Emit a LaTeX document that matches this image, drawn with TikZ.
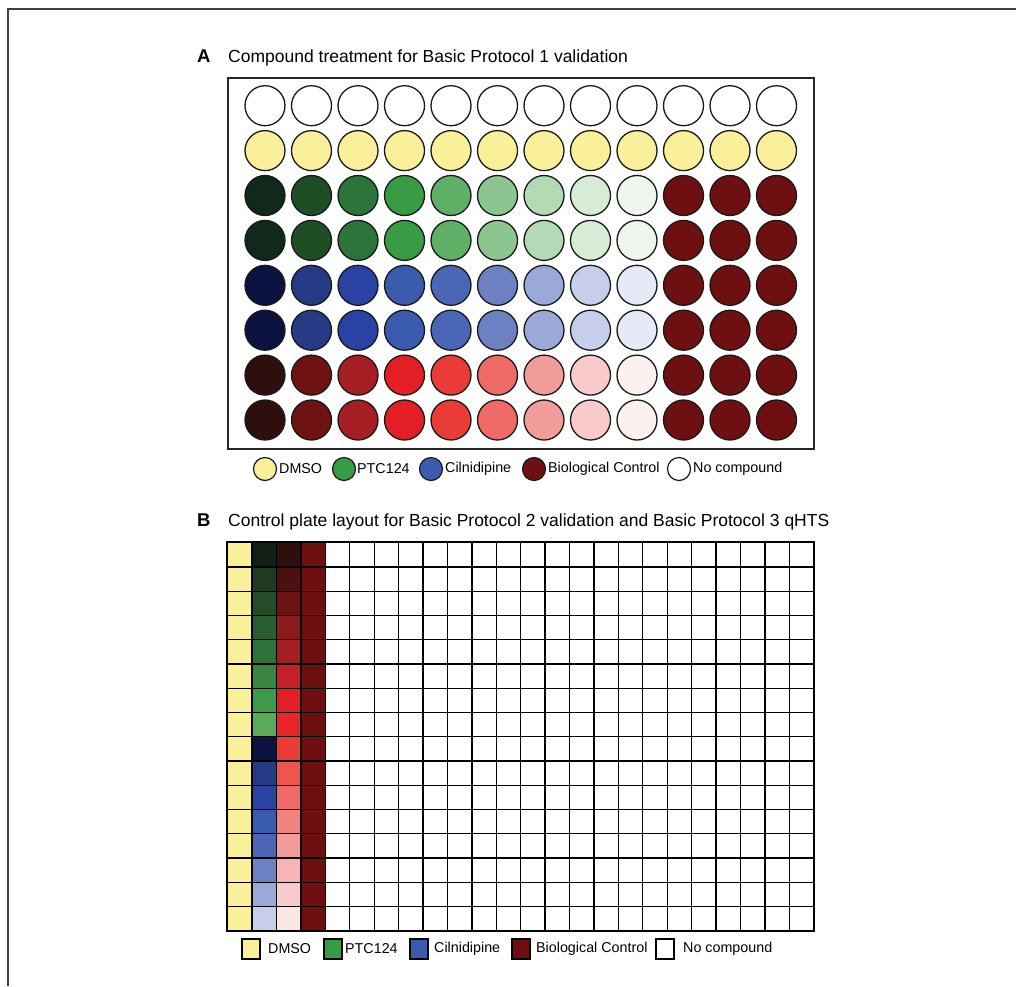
\documentclass[tikz,border=0pt]{standalone}
\usepackage{fontspec}
\setmainfont{Liberation Sans}
\definecolor{dmso}{HTML}{FAF09A}
\definecolor{bio}{HTML}{6E1012}
\definecolor{ptc}{HTML}{379A44}
\definecolor{cil}{HTML}{3B5BAE}
\definecolor{gA}{HTML}{10291A}\definecolor{gB}{HTML}{1F4D25}\definecolor{gC}{HTML}{2C743A}
\definecolor{gD}{HTML}{389C45}\definecolor{gE}{HTML}{60AF67}\definecolor{gF}{HTML}{8CC590}
\definecolor{gG}{HTML}{B4DAB5}\definecolor{gH}{HTML}{D7EBD7}\definecolor{gI}{HTML}{EEF6EE}
\definecolor{bA}{HTML}{0C1240}\definecolor{bB}{HTML}{263A86}\definecolor{bC}{HTML}{2A43A2}
\definecolor{bD}{HTML}{3B5BAE}\definecolor{bE}{HTML}{4B66B4}\definecolor{bF}{HTML}{6D81C2}
\definecolor{bG}{HTML}{9BA9D9}\definecolor{bH}{HTML}{C6CEEB}\definecolor{bI}{HTML}{E6EAF6}
\definecolor{rA}{HTML}{2F0E0E}\definecolor{rB}{HTML}{6E1213}\definecolor{rC}{HTML}{A51E23}
\definecolor{rD}{HTML}{E31E25}\definecolor{rE}{HTML}{EA3C36}\definecolor{rF}{HTML}{EE6A66}
\definecolor{rG}{HTML}{F29B9B}\definecolor{rH}{HTML}{F8CACB}\definecolor{rI}{HTML}{FDF1EF}
% plate B gradients
\definecolor{GA}{HTML}{131E15}\definecolor{GB}{HTML}{1F3A22}\definecolor{GC}{HTML}{234D29}
\definecolor{GD}{HTML}{2A5E31}\definecolor{GE}{HTML}{2F7138}\definecolor{GF}{HTML}{388440}
\definecolor{GG}{HTML}{3C9A48}\definecolor{GH}{HTML}{5BAA57}
\definecolor{RA}{HTML}{2F0E0E}\definecolor{RB}{HTML}{4C1011}\definecolor{RC}{HTML}{6B1213}
\definecolor{RD}{HTML}{8C1A1C}\definecolor{RE}{HTML}{A51E22}\definecolor{RF}{HTML}{C4202A}
\definecolor{RG}{HTML}{E31E24}\definecolor{RH}{HTML}{E8262A}\definecolor{RI}{HTML}{EA3B35}
\definecolor{RJ}{HTML}{EE554E}\definecolor{RK}{HTML}{EF6A66}\definecolor{RL}{HTML}{F18380}
\definecolor{RM}{HTML}{F29B9B}\definecolor{RN}{HTML}{F6B4B4}\definecolor{RO}{HTML}{F8CACB}
\definecolor{RP}{HTML}{FBE6E6}
\begin{document}
\begin{tikzpicture}[x=1pt,y=-1pt,
  well/.style={circle,draw=black!90,line width=1.3pt,minimum size=40pt,inner sep=0pt},
  cell/.style={rectangle,draw=black,line width=1.3pt,minimum width=24.42pt,minimum height=24.25pt,inner sep=0pt,anchor=north west},
  legcirc/.style={circle,draw=black!90,line width=1.2pt,minimum size=23pt,inner sep=0pt},
  legsq/.style={rectangle,draw=black,line width=1.2pt,minimum width=18pt,minimum height=20pt,inner sep=0pt},
  legtxt/.style={anchor=west,inner sep=0pt,font=\fontsize{14.3}{16}\selectfont},
  title/.style={anchor=base west,inner sep=0pt,font=\fontsize{17.5}{20}\selectfont},
  panel/.style={anchor=base west,inner sep=0pt,font=\fontsize{18.5}{20}\selectfont\bfseries}]
\useasboundingbox (0,0) rectangle (1016,986);
\draw[line width=1.5pt,black!75] (1016,9) -- (8,9) -- (8,986);
% ---------- Panel A ----------
\node[panel] (lblA) at (197,62) {A};
\node[title] (titA) at (228,62) {Compound treatment for Basic Protocol 1 validation};
\node[draw,line width=2pt,black!85,rectangle,minimum width=586pt,minimum height=371pt,inner sep=0pt,anchor=north west] (plateA) at (227,77) {};
\foreach \r/\cl in {1/{white,white,white,white,white,white,white,white,white,white,white,white},
                    2/{dmso,dmso,dmso,dmso,dmso,dmso,dmso,dmso,dmso,dmso,dmso,dmso},
                    3/{gA,gB,gC,gD,gE,gF,gG,gH,gI,bio,bio,bio},
                    4/{gA,gB,gC,gD,gE,gF,gG,gH,gI,bio,bio,bio},
                    5/{bA,bB,bC,bD,bE,bF,bG,bH,bI,bio,bio,bio},
                    6/{bA,bB,bC,bD,bE,bF,bG,bH,bI,bio,bio,bio},
                    7/{rA,rB,rC,rD,rE,rF,rG,rH,rI,bio,bio,bio},
                    8/{rA,rB,rC,rD,rE,rF,rG,rH,rI,bio,bio,bio}}{
  \foreach \c [count=\i] in \cl {
    \node[well,fill=\c] (w-\r-\i) at ({265+(\i-1)*46.5},{105.7+(\r-1)*44.9}) {};
  }
}
% legend A
\node[legcirc,fill=dmso] (laD) at (265,469) {};
\node[legtxt] (laDt) at (279,469) {DMSO};
\node[legcirc,fill=ptc] (laP) at (344,469) {};
\node[legtxt] (laPt) at (357,469) {PTC124};
\node[legcirc,fill=cil] (laC) at (431,469) {};
\node[legtxt] (laCt) at (445,469) {Cilnidipine};
\node[legcirc,fill=bio] (laB) at (534,469) {};
\node[legtxt] (laBt) at (548,469) {Biological Control};
\node[legcirc,fill=white] (laN) at (679,469) {};
\node[legtxt] (laNt) at (693,469) {No compound};
% ---------- Panel B ----------
\node[panel] (lblB) at (197,526) {B};
\node[title] (titB) at (228,526) {Control plate layout for Basic Protocol 2 validation and Basic Protocol 3 qHTS};
\foreach \k/\cl in {1/{dmso,dmso,dmso,dmso,dmso,dmso,dmso,dmso,dmso,dmso,dmso,dmso,dmso,dmso,dmso,dmso},
                    2/{GA,GB,GC,GD,GE,GF,GG,GH,bA,bB,bC,bD,bE,bF,bG,bH},
                    3/{RA,RB,RC,RD,RE,RF,RG,RH,RI,RJ,RK,RL,RM,RN,RO,RP},
                    4/{bio,bio,bio,bio,bio,bio,bio,bio,bio,bio,bio,bio,bio,bio,bio,bio}}{
  \foreach \c [count=\j] in \cl {
    \node[cell,fill=\c] (c-\j-\k) at ({227+(\k-1)*24.42},{542+(\j-1)*24.25}) {};
  }
}
\foreach \k in {5,...,24}{
  \foreach \j in {1,...,16}{
    \node[cell,fill=white] (c-\j-\k) at ({227+(\k-1)*24.42},{542+(\j-1)*24.25}) {};
  }
}
\draw[line width=1.5pt] (c-1-1.north west) rectangle (c-16-24.south east);
% legend B
\node[legsq,fill=dmso] (lbD) at (251,949) {};
\node[legtxt] (lbDt) at (268,949) {DMSO};
\node[legsq,fill=ptc] (lbP) at (333,949) {};
\node[legtxt] (lbPt) at (345,949) {PTC124};
\node[legsq,fill=cil] (lbC) at (419,949) {};
\node[legtxt] (lbCt) at (434,949) {Cilnidipine};
\node[legsq,fill=bio] (lbB) at (521,949) {};
\node[legtxt] (lbBt) at (536,949) {Biological Control};
\node[legsq,fill=white] (lbN) at (665,949) {};
\node[legtxt] (lbNt) at (683,949) {No compound};
\end{tikzpicture}
\end{document}
